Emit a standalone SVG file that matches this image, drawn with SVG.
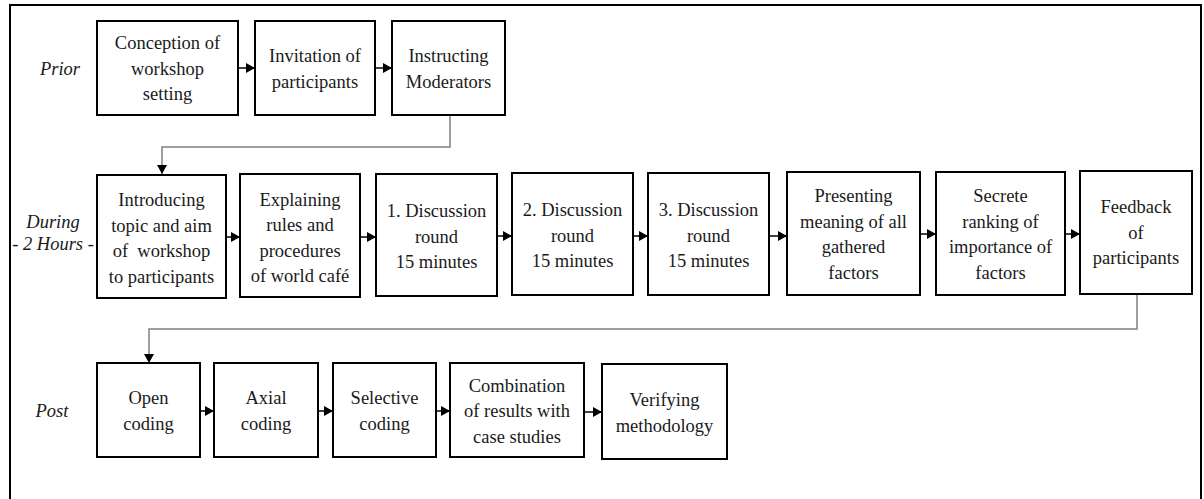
<svg xmlns="http://www.w3.org/2000/svg" width="1204" height="499" viewBox="0 0 1204 499">
<style>
.bg{fill:#ffffff}
.frame{fill:none;stroke:#000;stroke-width:2}
.box{fill:#fff;stroke:#000;stroke-width:2}
text{font-size:18.5px;fill:#1a1a1a;text-anchor:middle}
.lab{font-style:italic}
.a{fill:none;stroke:#000;stroke-width:1.5}
.g{fill:none;stroke:#808080;stroke-width:1.5}
</style>
<defs>
<marker id="ah" markerUnits="userSpaceOnUse" markerWidth="9" markerHeight="10" refX="9" refY="5" orient="auto" viewBox="0 0 9 10">
<path d="M0,0 L9,5 L0,10 z" fill="#000"/>
</marker>
</defs>
<rect class="bg" x="0" y="0" width="1204" height="499"/>
<path class="frame" d="M10,505 V5 H1201 V505"/>

<g id="connectors">
<line class="a" x1="238" y1="68" x2="255" y2="68" marker-end="url(#ah)"/>
<line class="a" x1="375" y1="68" x2="392" y2="68" marker-end="url(#ah)"/>
<polyline class="g" points="450,115 450,147 162,147 162,174" marker-end="url(#ah)"/>
<line class="a" x1="226" y1="237" x2="240" y2="237" marker-end="url(#ah)"/>
<line class="a" x1="360" y1="237" x2="376" y2="237" marker-end="url(#ah)"/>
<line class="a" x1="497" y1="236" x2="512" y2="236" marker-end="url(#ah)"/>
<line class="a" x1="633" y1="236" x2="648" y2="236" marker-end="url(#ah)"/>
<line class="a" x1="769" y1="236" x2="787" y2="236" marker-end="url(#ah)"/>
<line class="a" x1="920" y1="234" x2="936" y2="234" marker-end="url(#ah)"/>
<line class="a" x1="1065" y1="234" x2="1080" y2="234" marker-end="url(#ah)"/>
<polyline class="g" points="1137,294 1137,329 149,329 149,363" marker-end="url(#ah)"/>
<line class="a" x1="200" y1="411" x2="214" y2="411" marker-end="url(#ah)"/>
<line class="a" x1="318" y1="411" x2="333" y2="411" marker-end="url(#ah)"/>
<line class="a" x1="436" y1="411" x2="450" y2="411" marker-end="url(#ah)"/>
<line class="a" x1="584" y1="412" x2="602" y2="412" marker-end="url(#ah)"/>
</g>

<g id="diagram" font-family="Liberation Serif, DejaVu Serif, serif">
<g id="labels">
<text class="lab" x="60" y="75">Prior</text>
<text class="lab" x="53" y="228">During</text>
<text class="lab" x="53" y="250">- 2 Hours -</text>
<text class="lab" x="52" y="417">Post</text>
</g>

<g id="n-conception">
<rect class="box" x="97" y="21" width="141" height="94"/>
<text x="167.5" y="49">Conception of</text>
<text x="167.5" y="74.5">workshop</text>
<text x="167.5" y="100">setting</text>
</g>
<g id="n-invitation">
<rect class="box" x="255" y="21" width="120" height="94"/>
<text x="315" y="62">Invitation of</text>
<text x="315" y="87.5">participants</text>
</g>
<g id="n-instructing">
<rect class="box" x="392" y="21" width="113" height="94"/>
<text x="448.5" y="62">Instructing</text>
<text x="448.5" y="87.5">Moderators</text>
</g>

<g id="n-introducing">
<rect class="box" x="97" y="175" width="129" height="123"/>
<text x="161.5" y="206">Introducing</text>
<text x="161.5" y="231.5">topic and aim</text>
<text x="161.5" y="257" xml:space="preserve">of  workshop</text>
<text x="161.5" y="282.5">to participants</text>
</g>
<g id="n-explaining">
<rect class="box" x="240" y="174" width="120" height="123"/>
<text x="300" y="205.5">Explaining</text>
<text x="300" y="231">rules and</text>
<text x="300" y="256.5">procedures</text>
<text x="300" y="282">of world café</text>
</g>
<g id="n-round1">
<rect class="box" x="376" y="174" width="121" height="122"/>
<text x="436.5" y="217">1. Discussion</text>
<text x="436.5" y="242.5">round</text>
<text x="436.5" y="268">15 minutes</text>
</g>
<g id="n-round2">
<rect class="box" x="512" y="173" width="121" height="122"/>
<text x="572.5" y="216">2. Discussion</text>
<text x="572.5" y="241.5">round</text>
<text x="572.5" y="267">15 minutes</text>
</g>
<g id="n-round3">
<rect class="box" x="648" y="173" width="121" height="122"/>
<text x="708.5" y="216">3. Discussion</text>
<text x="708.5" y="241.5">round</text>
<text x="708.5" y="267">15 minutes</text>
</g>
<g id="n-presenting">
<rect class="box" x="787" y="172" width="133" height="123"/>
<text x="853.5" y="202">Presenting</text>
<text x="853.5" y="227.5">meaning of all</text>
<text x="853.5" y="253">gathered</text>
<text x="853.5" y="278.5">factors</text>
</g>
<g id="n-secrete">
<rect class="box" x="936" y="172" width="129" height="123"/>
<text x="1000.5" y="202">Secrete</text>
<text x="1000.5" y="227.5">ranking of</text>
<text x="1000.5" y="253">importance of</text>
<text x="1000.5" y="278.5">factors</text>
</g>
<g id="n-feedback">
<rect class="box" x="1080" y="171" width="112" height="123"/>
<text x="1136" y="213">Feedback</text>
<text x="1136" y="238.5">of</text>
<text x="1136" y="264">participants</text>
</g>

<g id="n-open">
<rect class="box" x="97" y="363" width="103" height="94"/>
<text x="148.5" y="404">Open</text>
<text x="148.5" y="429.5">coding</text>
</g>
<g id="n-axial">
<rect class="box" x="214" y="363" width="104" height="94"/>
<text x="266" y="404">Axial</text>
<text x="266" y="429.5">coding</text>
</g>
<g id="n-selective">
<rect class="box" x="333" y="363" width="103" height="94"/>
<text x="384.5" y="404">Selective</text>
<text x="384.5" y="429.5">coding</text>
</g>
<g id="n-combination">
<rect class="box" x="450" y="363" width="134" height="94"/>
<text x="517" y="391.5">Combination</text>
<text x="517" y="417">of results with</text>
<text x="517" y="442.5">case studies</text>
</g>
<g id="n-verifying">
<rect class="box" x="602" y="364" width="125" height="95"/>
<text x="664.5" y="406">Verifying</text>
<text x="664.5" y="431.5">methodology</text>
</g>
</g>
</svg>
